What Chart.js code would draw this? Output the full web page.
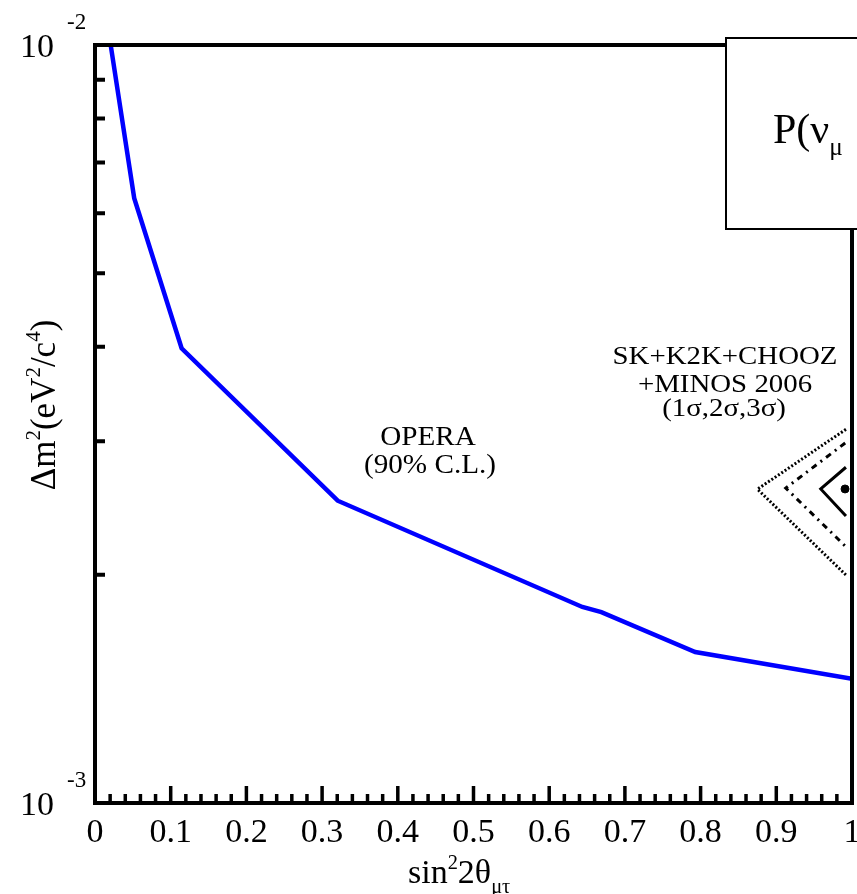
<!DOCTYPE html>
<html>
<head>
<meta charset="utf-8">
<script src="https://cdn.jsdelivr.net/npm/chart.js@4.4.0/dist/chart.umd.min.js"></script>
<style>
body{margin:0;background:#fff;}
canvas{display:block;}
</style>
</head>
<body>
<canvas id="c" width="857" height="894"></canvas>
<script>

/* data */

const operaX = [0.0207, 0.0518, 0.1144, 0.3206, 0.6438, 0.6689, 0.7929, 1.0];
const operaY = [1.0e-2, 6.28e-3, 3.98e-3, 2.505e-3, 1.814e-3, 1.786e-3, 1.582e-3, 1.458e-3];

const sig3X = [0.992, 0.8751, 0.992];
const sig3Y = [3.112e-3, 2.594e-3, 1.999e-3];
const sig2X = [0.991, 0.9125, 0.991];
const sig2Y = [2.985e-3, 2.603e-3, 2.183e-3];
const sig1X = [0.992, 0.9587, 0.992];
const sig1Y = [2.773e-3, 2.596e-3, 2.391e-3];
const bestX = [0.9908];
const bestY = [2.596e-3];

const xMajor = [0, 0.1, 0.2, 0.3, 0.4, 0.5, 0.6, 0.7, 0.8, 0.9, 1];
const xLabels = ["0", "0.1", "0.2", "0.3", "0.4", "0.5", "0.6", "0.7", "0.8", "0.9", "1"];
const xMinor = [0.02,0.04,0.06,0.08,0.12,0.14,0.16,0.18,0.22,0.24,0.26,0.28,0.32,0.34,0.36,0.38,
0.42,0.44,0.46,0.48,0.52,0.54,0.56,0.58,0.62,0.64,0.66,0.68,0.72,0.74,0.76,0.78,
0.82,0.84,0.86,0.88,0.92,0.94,0.96,0.98];
const yMinor = [2e-3, 3e-3, 4e-3, 5e-3, 6e-3, 7e-3, 8e-3, 9e-3];
const yMajor = [1e-2, 1e-3];
const yExp = ["-2", "-3"];

function pts(xs, ys){
return xs.map((x, i) => ({x: x, y: ys[i]}));
}

const SERIF = "'Liberation Serif', 'Times New Roman', serif";

/* rich text: parts = [[text, 'n'|'sup'|'sub'], ...] */

function partFont(size, kind){
let s = kind === "n" ? size : size * 0.6;
return s + "px " + SERIF;
}

function richWidth(ctx, parts, size){
let w = 0;
parts.forEach(p => {
ctx.font = partFont(size, p[1]);
w += ctx.measureText(p[0]).width;
});
return w;
}

function richText(ctx, parts, x, y, size){
parts.forEach(p => {
ctx.font = partFont(size, p[1]);
let dy = 0;
if(p[1] === "sup") dy = -size * 0.42;
if(p[1] === "sub") dy = size * 0.28;
ctx.fillText(p[0], x, y + dy);
x += ctx.measureText(p[0]).width;
});
}

function stretched(ctx, text, cx, y, size, sx){
ctx.save();
ctx.translate(cx, y);
ctx.scale(sx, 1);
ctx.font = size + "px " + SERIF;
ctx.textAlign = "center";
ctx.fillText(text, 0, 0);
ctx.restore();
}

/* frame, ticks, labels */

const decor = {
id: "decor",
afterDraw(chart){

const ctx = chart.ctx;
const a = chart.chartArea;
const xs = chart.scales.x;
const ys = chart.scales.y;

ctx.save();
ctx.fillStyle = "#000";
ctx.strokeStyle = "#000";
ctx.textBaseline = "alphabetic";

/* ticks */
ctx.lineWidth = 3.5;
ctx.beginPath();
xMinor.forEach(v => {
let px = xs.getPixelForValue(v);
ctx.moveTo(px, a.bottom);
ctx.lineTo(px, a.bottom - 9);
});
xMajor.forEach(v => {
let px = xs.getPixelForValue(v);
ctx.moveTo(px, a.bottom);
ctx.lineTo(px, a.bottom - 17);
});
ctx.stroke();

ctx.lineWidth = 4;
ctx.beginPath();
yMinor.forEach(v => {
let py = ys.getPixelForValue(v);
ctx.moveTo(a.left, py);
ctx.lineTo(a.left + 10, py);
});
ctx.stroke();

/* frame */
ctx.lineWidth = 4;
ctx.strokeRect(a.left, a.top, a.right - a.left, a.bottom - a.top);

/* x tick labels */
ctx.font = "34px " + SERIF;
ctx.textAlign = "center";
xMajor.forEach((v, i) => {
ctx.fillText(xLabels[i], xs.getPixelForValue(v), 842);
});

/* y tick labels */
yMajor.forEach((v, i) => {
let py = ys.getPixelForValue(v);
ctx.font = "34px " + SERIF;
ctx.textAlign = "right";
ctx.fillText("10", 54, py + 12);
ctx.font = "23px " + SERIF;
ctx.textAlign = "left";
ctx.fillText(yExp[i], 67, py - 16);
});

/* axis titles */
ctx.textAlign = "left";
richText(ctx, [["sin","n"],["2","sup"],["2θ","n"],["μτ","sub"]], 408, 883, 34);

ctx.save();
ctx.translate(55, 405);
ctx.rotate(-Math.PI / 2);
let yt = [["Δm","n"],["2","sup"],["(eV","n"],["2","sup"],["/c","n"],["4","sup"],[")","n"]];
let w = richWidth(ctx, yt, 35);
richText(ctx, yt, -w / 2, 0, 35);
ctx.restore();

/* annotations */
stretched(ctx, "OPERA", 428, 445, 27, 1.08);
stretched(ctx, "(90% C.L.)", 430, 473, 27, 1.08);
stretched(ctx, "SK+K2K+CHOOZ", 725, 364, 26, 1.11);
stretched(ctx, "+MINOS 2006", 725, 392, 26, 1.11);
stretched(ctx, "(1σ,2σ,3σ)", 724, 416, 26, 1.11);

/* legend box */
ctx.fillStyle = "#fff";
ctx.fillRect(726, 38, 200, 191);
ctx.lineWidth = 2;
ctx.strokeRect(726, 38, 200, 191);
ctx.fillStyle = "#000";
ctx.textAlign = "left";
richText(ctx, [["P(ν","n"],["μ","sub"],[" → ν","n"],["τ","sub"],[")","n"]], 773, 143, 42);

ctx.restore();
}
};

new Chart(document.getElementById("c"), {
type: "scatter",
data: {
datasets: [
{
label: "OPERA",
data: pts(operaX, operaY),
showLine: true,
borderColor: "#0000ff",
borderWidth: 4.5,
pointRadius: 0
},
{
label: "3 sigma",
data: pts(sig3X, sig3Y),
showLine: true,
borderColor: "#000",
borderWidth: 3,
borderDash: [2, 2],
pointRadius: 0
},
{
label: "2 sigma",
data: pts(sig2X, sig2Y),
showLine: true,
borderColor: "#000",
borderWidth: 3,
borderDash: [6, 5, 2, 5],
pointRadius: 0
},
{
label: "1 sigma",
data: pts(sig1X, sig1Y),
showLine: true,
borderColor: "#000",
borderWidth: 3,
pointRadius: 0
},
{
label: "best fit",
data: pts(bestX, bestY),
backgroundColor: "#000",
borderColor: "#000",
pointRadius: 4
}
]
},
options: {
responsive: false,
animation: false,
events: [],
layout: {padding: {top: 45, right: 4, left: 0, bottom: 0}},
plugins: {legend: {display: false}, tooltip: {enabled: false}},
scales: {
x: {
type: "linear",
min: 0,
max: 1,
grid: {display: false},
border: {display: false},
ticks: {display: false},
afterFit: s => { s.height = 91; }
},
y: {
type: "logarithmic",
min: 1e-3,
max: 1e-2,
grid: {display: false},
border: {display: false},
ticks: {display: false},
afterFit: s => { s.width = 95; }
}
}
},
plugins: [decor]
});

</script>
</body>
</html>
